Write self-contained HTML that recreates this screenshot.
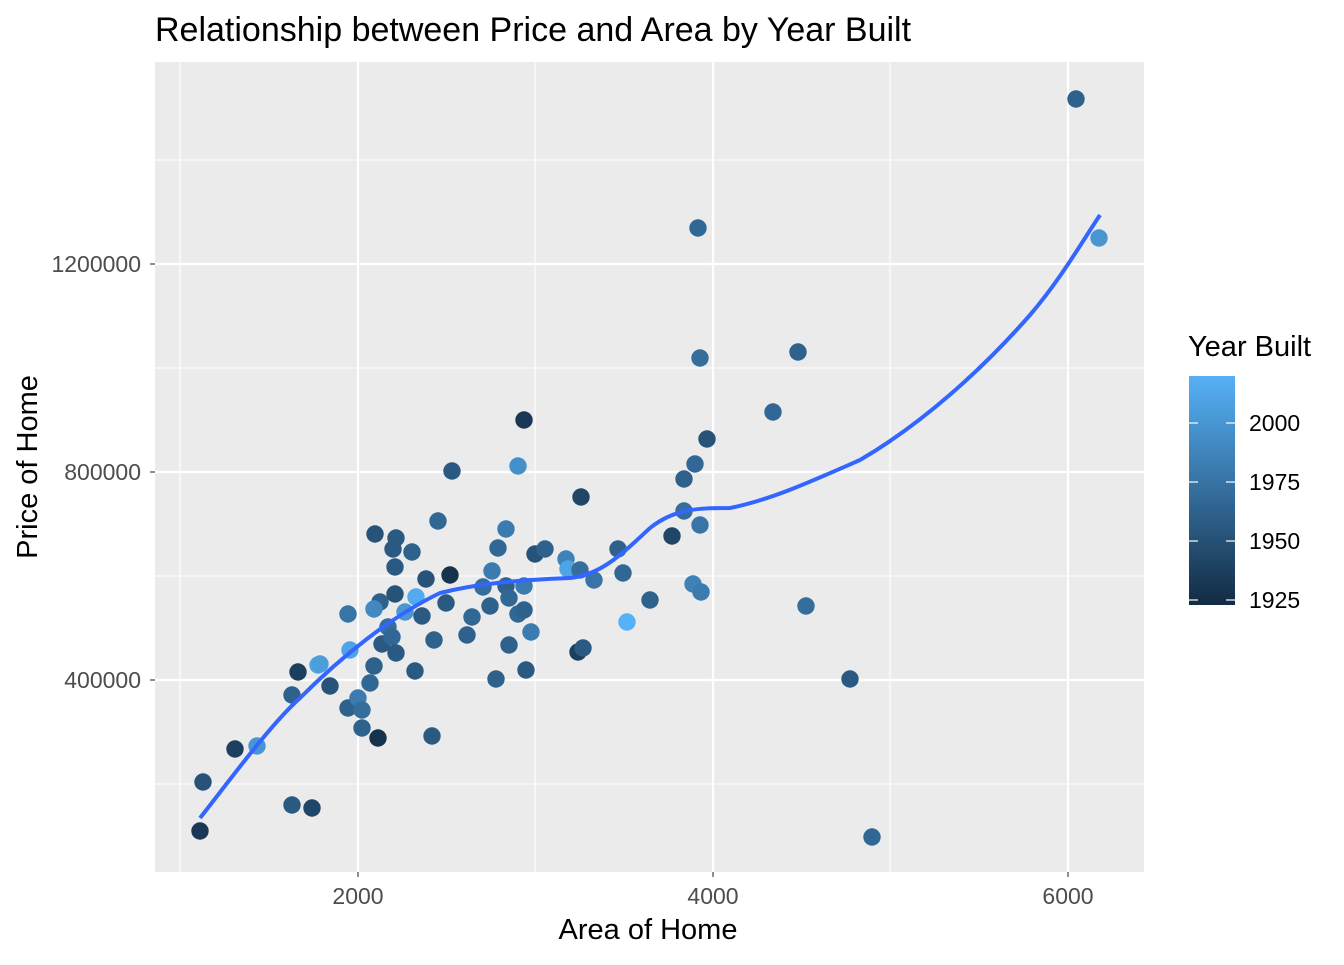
<!DOCTYPE html>
<html><head><meta charset="utf-8"><style>
body{margin:0;background:#fff;}
svg text{font-family:"Liberation Sans",sans-serif;}
</style></head><body>
<svg id="s" width="1344" height="960" xmlns="http://www.w3.org/2000/svg">
<defs><linearGradient id="g" x1="0" y1="1" x2="0" y2="0">
<stop offset="0" stop-color="#132B43"/><stop offset="1" stop-color="#56B1F7"/></linearGradient></defs>
<rect x="155" y="62" width="989" height="810" fill="#EBEBEB"/>
<g stroke="#fff" stroke-width="1.1">
<line x1="180" y1="62" x2="180" y2="872"/><line x1="535" y1="62" x2="535" y2="872"/><line x1="890" y1="62" x2="890" y2="872"/>
<line x1="155" y1="160" x2="1144" y2="160"/><line x1="155" y1="368" x2="1144" y2="368"/><line x1="155" y1="576" x2="1144" y2="576"/><line x1="155" y1="784" x2="1144" y2="784"/>
</g>
<g stroke="#fff" stroke-width="2.2">
<line x1="358" y1="62" x2="358" y2="872"/><line x1="713" y1="62" x2="713" y2="872"/><line x1="1068" y1="62" x2="1068" y2="872"/>
<line x1="155" y1="264" x2="1144" y2="264"/><line x1="155" y1="472" x2="1144" y2="472"/><line x1="155" y1="680" x2="1144" y2="680"/>
</g>
<g id="pts"></g>
<path d="M200,818 C230,780 270,725 300,698 C340,658 390,617 440,593 C480,583 520,580 570,578 C600,575 620,556 650,528 C675,508 700,508 730,508 C770,500 810,482 860,460 C920,425 980,372 1030,315 C1060,280 1080,245 1100,215" fill="none" stroke="#3366FF" stroke-width="4"/>
<g stroke="#333" stroke-width="1.1">
<line x1="358" y1="872" x2="358" y2="877"/><line x1="713" y1="872" x2="713" y2="877"/><line x1="1068" y1="872" x2="1068" y2="877"/>
<line x1="150" y1="264" x2="155" y2="264"/><line x1="150" y1="472" x2="155" y2="472"/><line x1="150" y1="680" x2="155" y2="680"/>
</g>
<g font-size="23" fill="#4D4D4D">
<text x="358" y="904" text-anchor="middle">2000</text><text x="713" y="904" text-anchor="middle">4000</text><text x="1068" y="904" text-anchor="middle">6000</text>
<text x="141" y="272" text-anchor="end">1200000</text><text x="141" y="480" text-anchor="end">800000</text><text x="141" y="688" text-anchor="end">400000</text>
</g>
<text x="648" y="939" text-anchor="middle" font-size="29">Area of Home</text>
<text transform="translate(37,467) rotate(-90)" text-anchor="middle" font-size="29">Price of Home</text>
<text x="155" y="41" font-size="34">Relationship between Price and Area by Year Built</text>
<text x="1188" y="356" font-size="29">Year Built</text>
<rect x="1189" y="376" width="46" height="229" fill="url(#g)"/>
<g stroke="#fff" stroke-width="1.2">
<line x1="1189" y1="423" x2="1198" y2="423"/><line x1="1226" y1="423" x2="1235" y2="423"/>
<line x1="1189" y1="482" x2="1198" y2="482"/><line x1="1226" y1="482" x2="1235" y2="482"/>
<line x1="1189" y1="541" x2="1198" y2="541"/><line x1="1226" y1="541" x2="1235" y2="541"/>
<line x1="1189" y1="600" x2="1198" y2="600"/><line x1="1226" y1="600" x2="1235" y2="600"/>
</g>
<g font-size="23" fill="#000">
<text x="1249" y="431">2000</text><text x="1249" y="490">1975</text><text x="1249" y="549">1950</text><text x="1249" y="608">1925</text>
</g>
</svg>
<script>
var P=[[200,831,0.1],[203,782,0.3],[235,749,0.15],[257,746,0.8],[292,805,0.35],[312,808,0.2],[292,695,0.4],[298,672,0.15],[318,665,0.9],[320,664,0.85],[330,686,0.3],[348,614,0.55],[350,650,0.9],[348,708,0.4],[358,698,0.6],[362,710,0.5],[362,728,0.4],[370,683,0.45],[374,666,0.4],[378,738,0.05],[375,534,0.3],[380,602,0.4],[374,609,0.7],[382,644,0.35],[388,627,0.5],[392,637,0.45],[393,549,0.35],[395,567,0.35],[396,538,0.35],[395,594,0.3],[396,653,0.35],[405,612,0.8],[412,552,0.4],[416,597,0.95],[415,671,0.35],[422,616,0.35],[426,579,0.3],[432,736,0.35],[434,640,0.4],[438,521,0.45],[446,603,0.35],[450,575,0.05],[452,471,0.35],[467,635,0.4],[472,617,0.45],[483,587,0.5],[490,606,0.4],[492,571,0.6],[496,679,0.4],[498,548,0.45],[506,529,0.6],[506,586,0.4],[509,645,0.4],[509,598,0.45],[518,614,0.45],[524,420,0.1],[524,586,0.6],[526,670,0.35],[518,466,0.75],[524,610,0.4],[531,632,0.6],[535,554,0.3],[545,549,0.4],[566,559,0.65],[568,569,0.9],[578,652,0.15],[583,648,0.35],[580,570,0.5],[581,497,0.2],[594,580,0.55],[618,549,0.4],[623,573,0.45],[627,622,1.0],[650,600,0.4],[672,536,0.2],[684,479,0.4],[684,511,0.5],[695,464,0.45],[693,584,0.65],[700,525,0.55],[701,592,0.6],[698,228,0.45],[700,358,0.5],[707,439,0.3],[773,412,0.45],[798,352,0.4],[806,606,0.5],[850,679,0.35],[872,837,0.45],[1076,99,0.4],[1099,238,0.8]];
var h='';P.forEach(function(p){var t=p[2];var r=Math.round(19+67*t),g=Math.round(43+134*t),b=Math.round(67+180*t);
h+='<circle cx="'+p[0]+'" cy="'+p[1]+'" r="8.7" fill="rgb('+r+','+g+','+b+')"/>';});
document.getElementById('pts').innerHTML=h;
</script>
</body></html>
